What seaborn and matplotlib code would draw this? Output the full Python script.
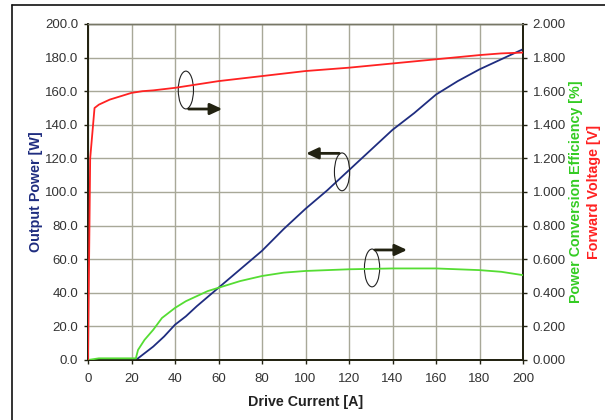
import matplotlib
matplotlib.use("Agg")
import matplotlib.pyplot as plt
import seaborn as sns
import numpy as np
import pandas as pd
from matplotlib.patches import Ellipse
from matplotlib.lines import Line2D

# ---- data ----
power_x = [0, 22, 25, 30, 35, 40, 45, 50, 60, 70, 80, 90, 100, 110, 120, 130, 140, 150, 160, 170, 180, 190, 200]
power_y = [0, 0, 3, 8, 14, 21, 26, 32, 43, 54, 65, 78, 90, 101, 113, 125, 137, 147, 158, 166, 173, 179, 185]

eff_x = [0, 5, 10, 20, 22, 23, 26, 30, 34, 40, 45, 50, 55, 60, 70, 80, 90, 100, 110, 120, 140, 160, 180, 190, 200]
eff_y = [0.0, 0.01, 0.01, 0.01, 0.01, 0.06, 0.12, 0.18, 0.25, 0.31, 0.35, 0.38, 0.41, 0.43, 0.47, 0.50, 0.52, 0.53, 0.535, 0.54, 0.545, 0.545, 0.535, 0.525, 0.505]

volt_x = [0, 1, 3, 5, 10, 15, 20, 25, 30, 40, 50, 60, 70, 80, 100, 120, 140, 160, 180, 190, 200]
volt_y = [0.0, 1.20, 1.50, 1.52, 1.55, 1.57, 1.59, 1.60, 1.605, 1.62, 1.64, 1.66, 1.675, 1.69, 1.72, 1.74, 1.765, 1.79, 1.815, 1.825, 1.83]

x_ticks = [0, 20, 40, 60, 80, 100, 120, 140, 160, 180, 200]
left_ticks = [0, 20, 40, 60, 80, 100, 120, 140, 160, 180, 200]
right_ticks = [0.0, 0.2, 0.4, 0.6, 0.8, 1.0, 1.2, 1.4, 1.6, 1.8, 2.0]

NAVY = "#1f2d80"
RED = "#ff2222"
GREEN = "#55dd33"
GRID = "#a8a898"

sns.set_theme(style="white")
plt.rcParams['font.family'] = ['Liberation Sans', 'DejaVu Sans']

fig = plt.figure(figsize=(6.05, 4.2), dpi=100)
ax = fig.add_axes([88/605, 60/420, 435/605, 336/420])
ax2 = ax.twinx()

df_p = pd.DataFrame({"x": power_x, "y": power_y})
df_e = pd.DataFrame({"x": eff_x, "y": eff_y})
df_v = pd.DataFrame({"x": volt_x, "y": volt_y})

sns.lineplot(data=df_p, x="x", y="y", ax=ax, color=NAVY, lw=1.3, zorder=5)
sns.lineplot(data=df_e, x="x", y="y", ax=ax2, color=GREEN, lw=1.3, zorder=5)
sns.lineplot(data=df_v, x="x", y="y", ax=ax2, color=RED, lw=1.3, zorder=5)

TICK_FS = 9.5
ax.set_xlim(0, 200)
ax.set_ylim(0, 200)
ax2.set_ylim(0, 2.0)
ax.set_xticks(x_ticks)
ax.set_yticks(left_ticks)
ax2.set_yticks(right_ticks)
ax.set_xticklabels([str(v) for v in x_ticks], fontsize=TICK_FS, color="#333333")
ax.set_yticklabels([f"{v:.1f}" for v in left_ticks], fontsize=TICK_FS, color="#333333")
ax2.set_yticklabels([f"{v:.3f}" for v in right_ticks], fontsize=TICK_FS, color="#333333")

ax.grid(True, color=GRID, lw=1.0)
ax.set_axisbelow(True)
ax2.grid(False)

for a in (ax, ax2):
    for s in a.spines.values():
        s.set_color("#222211")
        s.set_linewidth(1.3)
    a.spines["top"].set_color("#777766")
    a.spines["top"].set_linewidth(1.0)

ax.tick_params(axis="x", direction="out", length=3, width=1, color="#222211", pad=6, bottom=True)
ax.tick_params(axis="y", direction="out", length=3, width=1, color="#222211", pad=4, left=True)
ax2.tick_params(axis="y", direction="out", length=3, width=1, color="#222211", pad=4, right=True)

ax.set_xlabel("Drive Current [A]", fontsize=10.3, fontweight="bold", color="#222222")
ax.set_ylabel("Output Power [W]", fontsize=10.3, fontweight="bold", color=NAVY)
ax.xaxis.set_label_coords(0.5, (360 - 402) / 336)
ax.yaxis.set_label_coords((36 - 88) / 435, 0.5)
ax.xaxis.label.set_va("center")
ax.yaxis.label.set_va("center")
ax2.set_ylabel("")

fig.text(576/605, 1 - 192/420, "Power Conversion Efficiency [%]", rotation=90, color="#33cc22",
         fontsize=10.3, fontweight="bold", ha="center", va="center")
fig.text(594/605, 1 - 192/420, "Forward Voltage [V]", rotation=90, color=RED,
         fontsize=10.3, fontweight="bold", ha="center", va="center")

# annotations: ellipse + arrow (in left-axis data coords)
def marker(cx, cy, arrow_y, arrow_x_end):
    e = Ellipse((cx, cy), width=7, height=22.5, fill=False, ec="#222222", lw=0.8, zorder=8)
    ax.add_patch(e)
    ax.annotate("", xy=(arrow_x_end, arrow_y), xytext=(cx, arrow_y),
                arrowprops=dict(arrowstyle="-|>,head_length=0.6,head_width=0.28", color="#222211", lw=2),
                zorder=9)

marker(45, 160.7, 149.4, 63)
marker(116.8, 112, 123, 99)
marker(130.6, 54.8, 65.5, 148)

ax2.set_zorder(2)
ax.set_zorder(1)
ax2.patch.set_visible(False)

# outer frame (left and top edges visible)
fig.add_artist(Line2D([12/605, 12/605], [0, 1 - 5/420], transform=fig.transFigure, color="#111111", lw=1.2))
fig.add_artist(Line2D([12/605, 1], [1 - 5/420, 1 - 5/420], transform=fig.transFigure, color="#111111", lw=1.2))

fig.savefig("out.png", dpi=100)
